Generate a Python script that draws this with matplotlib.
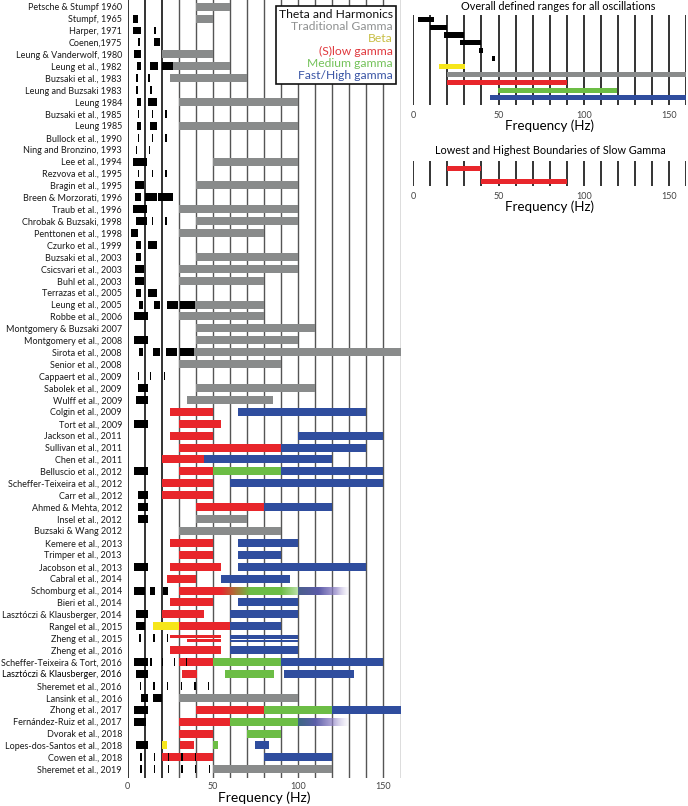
import numpy as np
import matplotlib
matplotlib.use("Agg")
import matplotlib.pyplot as plt
from matplotlib.colors import to_rgba
from matplotlib.lines import Line2D

plt.rcParams["font.family"] = ["Lato", "DejaVu Sans"]

STUDIES = [
    "Petsche & Stumpf 1960", "Stumpf, 1965", "Harper, 1971", "Coenen,1975",
    "Leung & Vanderwolf, 1980", "Leung et al., 1982", "Buzsaki et al., 1983",
    "Leung and Buzsaki 1983", "Leung 1984", "Buzsaki et al., 1985", "Leung 1985",
    "Bullock et al., 1990", "Ning and Bronzino, 1993", "Lee et al., 1994",
    "Rezvova et al., 1995", "Bragin et al., 1995", "Breen & Morzorati, 1996",
    "Traub et al., 1996", "Chrobak & Buzsaki, 1998", "Penttonen et al., 1998",
    "Czurko et al., 1999", "Buzsaki et al., 2003", "Csicsvari et al., 2003",
    "Buhl et al., 2003", "Terrazas et al., 2005", "Leung et al., 2005",
    "Robbe et al., 2006", "Montgomery & Buzsaki 2007", "Montgomery et al., 2008",
    "Sirota et al., 2008", "Senior et al., 2008", "Cappaert et al., 2009",
    "Sabolek et al., 2009", "Wulff et al., 2009", "Colgin et al., 2009",
    "Tort et al., 2009", "Jackson et al., 2011", "Sullivan et al., 2011",
    "Chen et al., 2011", "Belluscio et al., 2012", "Scheffer-Teixeira et al., 2012",
    "Carr et al., 2012", "Ahmed & Mehta, 2012", "Insel et al., 2012",
    "Buzsaki & Wang 2012", "Kemere et al., 2013", "Trimper et al., 2013",
    "Jacobson et al., 2013", "Cabral et al., 2014", "Schomburg et al., 2014",
    "Bieri et al., 2014", "Lasztóczi & Klausberger, 2014", "Rangel et al., 2015",
    "Zheng et al., 2015", "Zheng et al., 2016", "Scheffer-Teixeira & Tort, 2016",
    "Lasztóczi & Klausberger, 2016", "Sheremet et al., 2016", "Lansink et al., 2016",
    "Zhong et al., 2017", "Fernández-Ruiz et al., 2017", "Dvorak et al., 2018",
    "Lopes-dos-Santos et al., 2018", "Cowen et al., 2018", "Sheremet et al., 2019",
]

# theta and its harmonics (Hz)
THETA = [
    ("Stumpf, 1965", 3, 6), ("Harper, 1971", 3, 8), ("Harper, 1971", 15.5, 16.8),
    ("Coenen,1975", 6.2, 7.2), ("Coenen,1975", 15.3, 19.2),
    ("Leung & Vanderwolf, 1980", 4, 8),
    ("Leung et al., 1982", 5.5, 8.2), ("Leung et al., 1982", 13.3, 18), ("Leung et al., 1982", 20, 26.4),
    ("Buzsaki et al., 1983", 5.2, 6), ("Buzsaki et al., 1983", 12.3, 13.1),
    ("Leung and Buzsaki 1983", 5.2, 6), ("Leung and Buzsaki 1983", 13.4, 14.2),
    ("Leung 1984", 5.5, 8.2), ("Leung 1984", 12.3, 17.2),
    ("Buzsaki et al., 1985", 6.2, 7), ("Buzsaki et al., 1985", 14.3, 15.1), ("Buzsaki et al., 1985", 22.2, 23),
    ("Leung 1985", 5.5, 8.2), ("Leung 1985", 13.3, 17.2),
    ("Bullock et al., 1990", 6.2, 7), ("Bullock et al., 1990", 14.3, 15.1), ("Bullock et al., 1990", 22.2, 23),
    ("Ning and Bronzino, 1993", 5, 5.8), ("Ning and Bronzino, 1993", 12.4, 13.2),
    ("Lee et al., 1994", 3, 11.4),
    ("Rezvova et al., 1995", 6.2, 7), ("Rezvova et al., 1995", 14.3, 15.1), ("Rezvova et al., 1995", 22.2, 23),
    ("Bragin et al., 1995", 4.3, 9.4),
    ("Breen & Morzorati, 1996", 4.3, 8.2), ("Breen & Morzorati, 1996", 10.2, 17.5),
    ("Breen & Morzorati, 1996", 17.9, 26.4),
    ("Traub et al., 1996", 3, 11.4),
    ("Chrobak & Buzsaki, 1998", 5, 11.4), ("Chrobak & Buzsaki, 1998", 14.3, 15.1),
    ("Chrobak & Buzsaki, 1998", 22.2, 23),
    ("Penttonen et al., 1998", 2, 6),
    ("Czurko et al., 1999", 5, 8.2), ("Czurko et al., 1999", 12.3, 17.2),
    ("Buzsaki et al., 2003", 5, 8.2), ("Csicsvari et al., 2003", 4.3, 9.4),
    ("Buhl et al., 2003", 4.3, 9.4),
    ("Terrazas et al., 2005", 5, 8.2), ("Terrazas et al., 2005", 12.3, 17.2),
    ("Leung et al., 2005", 7, 9), ("Leung et al., 2005", 15.3, 19.2), ("Leung et al., 2005", 23, 29.5),
    ("Leung et al., 2005", 31, 39.5),
    ("Robbe et al., 2006", 4, 12), ("Montgomery et al., 2008", 4, 12),
    ("Sirota et al., 2008", 7, 9), ("Sirota et al., 2008", 14.7, 18.8), ("Sirota et al., 2008", 22.7, 29),
    ("Sirota et al., 2008", 31, 39),
    ("Cappaert et al., 2009", 6, 6.8), ("Cappaert et al., 2009", 13.2, 14), ("Cappaert et al., 2009", 21.2, 22),
    ("Sabolek et al., 2009", 6, 12), ("Wulff et al., 2009", 5, 12),
    ("Tort et al., 2009", 4, 12), ("Belluscio et al., 2012", 4, 12),
    ("Carr et al., 2012", 6, 12), ("Ahmed & Mehta, 2012", 6, 12), ("Insel et al., 2012", 6, 12),
    ("Jacobson et al., 2013", 4, 12),
    ("Schomburg et al., 2014", 4, 10), ("Schomburg et al., 2014", 13.3, 16), ("Schomburg et al., 2014", 21, 24),
    ("Lasztóczi & Klausberger, 2014", 5, 12), ("Rangel et al., 2015", 5, 10),
    ("Zheng et al., 2015", 7, 7.8), ("Zheng et al., 2015", 15.1, 15.9), ("Zheng et al., 2015", 23.1, 23.9),
    ("Scheffer-Teixeira & Tort, 2016", 4, 12), ("Scheffer-Teixeira & Tort, 2016", 13.3, 14.1),
    ("Scheffer-Teixeira & Tort, 2016", 20, 20.8), ("Scheffer-Teixeira & Tort, 2016", 27, 27.8),
    ("Scheffer-Teixeira & Tort, 2016", 34, 34.8),
    ("Lasztóczi & Klausberger, 2016", 5, 12),
    ("Sheremet et al., 2016", 7.1, 7.9), ("Sheremet et al., 2016", 15.1, 15.9), ("Sheremet et al., 2016", 23.1, 23.9),
    ("Sheremet et al., 2016", 31.1, 31.9), ("Sheremet et al., 2016", 39.1, 39.9), ("Sheremet et al., 2016", 47.1, 47.9),
    ("Lansink et al., 2016", 8, 12), ("Lansink et al., 2016", 15, 20),
    ("Zhong et al., 2017", 4, 12), ("Fernández-Ruiz et al., 2017", 4, 11),
    ("Lopes-dos-Santos et al., 2018", 5, 12),
    ("Cowen et al., 2018", 7.6, 8.4), ("Cowen et al., 2018", 15.6, 16.4), ("Cowen et al., 2018", 23.6, 24.4),
    ("Cowen et al., 2018", 31.6, 32.4), ("Cowen et al., 2018", 39.6, 40.4),
    ("Sheremet et al., 2019", 7.6, 8.4), ("Sheremet et al., 2019", 15.6, 16.4), ("Sheremet et al., 2019", 23.6, 24.4),
    ("Sheremet et al., 2019", 31.6, 32.4), ("Sheremet et al., 2019", 39.6, 40.4), ("Sheremet et al., 2019", 47.6, 48.4),
]

TRADITIONAL = [
    ("Petsche & Stumpf 1960", 40, 60), ("Stumpf, 1965", 40, 50), ("Leung & Vanderwolf, 1980", 20, 50),
    ("Leung et al., 1982", 26.4, 60), ("Buzsaki et al., 1983", 25, 70), ("Leung 1984", 30, 100),
    ("Leung 1985", 30, 100), ("Lee et al., 1994", 50, 100), ("Bragin et al., 1995", 40, 100),
    ("Traub et al., 1996", 30, 100), ("Chrobak & Buzsaki, 1998", 40, 100), ("Penttonen et al., 1998", 30, 80),
    ("Buzsaki et al., 2003", 40, 100), ("Csicsvari et al., 2003", 30, 100), ("Buhl et al., 2003", 30, 80),
    ("Leung et al., 2005", 39.5, 80), ("Robbe et al., 2006", 30, 80), ("Montgomery & Buzsaki 2007", 40, 110),
    ("Montgomery et al., 2008", 40, 100), ("Sirota et al., 2008", 39, 160), ("Senior et al., 2008", 30, 90),
    ("Sabolek et al., 2009", 40, 110), ("Wulff et al., 2009", 35, 85), ("Insel et al., 2012", 40, 70),
    ("Buzsaki & Wang 2012", 30, 90), ("Lansink et al., 2016", 30, 100), ("Sheremet et al., 2019", 50, 120),
]

BETA = [("Rangel et al., 2015", 15, 30), ("Lopes-dos-Santos et al., 2018", 20.5, 23)]

SLOW = [
    ("Colgin et al., 2009", 25, 50), ("Tort et al., 2009", 30, 55), ("Jackson et al., 2011", 25, 50),
    ("Sullivan et al., 2011", 30, 90), ("Chen et al., 2011", 20, 45), ("Belluscio et al., 2012", 30, 50),
    ("Scheffer-Teixeira et al., 2012", 20, 50), ("Carr et al., 2012", 20, 50), ("Ahmed & Mehta, 2012", 40, 80),
    ("Kemere et al., 2013", 25, 50), ("Trimper et al., 2013", 30, 50), ("Jacobson et al., 2013", 25, 55),
    ("Cabral et al., 2014", 23, 40), ("Schomburg et al., 2014", 30, 55), ("Bieri et al., 2014", 25, 50),
    ("Lasztóczi & Klausberger, 2014", 20, 45), ("Rangel et al., 2015", 30, 60),
    ("Zheng et al., 2016", 25, 55), ("Scheffer-Teixeira & Tort, 2016", 30, 50),
    ("Lasztóczi & Klausberger, 2016", 32, 41), ("Zhong et al., 2017", 40, 80),
    ("Fernández-Ruiz et al., 2017", 30, 60), ("Dvorak et al., 2018", 30, 50),
    ("Lopes-dos-Santos et al., 2018", 31, 39), ("Cowen et al., 2018", 20, 50),
]

MEDIUM = [
    ("Belluscio et al., 2012", 50, 90), ("Scheffer-Teixeira & Tort, 2016", 50, 90),
    ("Lasztóczi & Klausberger, 2016", 57, 86), ("Zhong et al., 2017", 80, 120),
    ("Fernández-Ruiz et al., 2017", 60, 100), ("Dvorak et al., 2018", 70, 90),
    ("Lopes-dos-Santos et al., 2018", 50, 53),
]

FAST = [
    ("Colgin et al., 2009", 65, 140), ("Jackson et al., 2011", 100, 150), ("Sullivan et al., 2011", 90, 140),
    ("Chen et al., 2011", 45, 120), ("Belluscio et al., 2012", 90, 150),
    ("Scheffer-Teixeira et al., 2012", 60, 150), ("Ahmed & Mehta, 2012", 80, 120),
    ("Kemere et al., 2013", 65, 100), ("Trimper et al., 2013", 65, 90), ("Jacobson et al., 2013", 65, 140),
    ("Cabral et al., 2014", 55, 95), ("Bieri et al., 2014", 65, 100),
    ("Lasztóczi & Klausberger, 2014", 60, 100), ("Rangel et al., 2015", 60, 90),
    ("Zheng et al., 2016", 60, 100), ("Scheffer-Teixeira & Tort, 2016", 90, 150),
    ("Lasztóczi & Klausberger, 2016", 92, 133), ("Zhong et al., 2017", 120, 160),
    ("Lopes-dos-Santos et al., 2018", 74.5, 83), ("Cowen et al., 2018", 80, 120),
]

# Zheng et al., 2015 is drawn as split lanes inside its row
ZHENG_2015_SLOW = [(25, 55), (35, 55)]
ZHENG_2015_FAST = [(60, 100), (60, 100), (60, 100)]

# colour transitions: (study, [(freq, colour, alpha), ...])
FADES = [
    ("Schomburg et al., 2014", [(55, "#e8262b", 1), (72, "#6cbd45", 1), (90, "#6cbd45", 1), (100, "#b9dfa5", 1)]),
    ("Schomburg et al., 2014", [(100, "#4b5f8c", 1), (112, "#5b5aa8", 1), (122, "#8c7fc4", 0.7), (130, "#c8c0e4", 0)]),
    ("Fernández-Ruiz et al., 2017", [(100, "#3d6783", 1), (110, "#5a5ea8", 1), (120, "#8c7fc4", 0.7), (130, "#c8c0e4", 0)]),
]

# right-hand summary panels
OVERALL_THETA = [(2.5, 12), (10, 20), (18, 29.5), (27.5, 40), (38.7, 40.7), (46, 48)]
OVERALL_BETA = (15, 30.5)
OVERALL_GAMMA = (20, 160)
OVERALL_SLOW = (20, 90)
OVERALL_MEDIUM = (49.5, 119.5)
OVERALL_FAST = (45, 160)
SLOW_BOUNDS = [(20, 40), (40, 90)]

LEGEND_LABELS = ["Theta and Harmonics", "Traditional Gamma", "Beta",
                 "(S)low gamma", "Medium gamma", "Fast/High gamma"]

C_THETA = "#000000"
C_GREY = "#898b8b"
C_BETA = "#f6e61a"
C_SLOW = "#e8262b"
C_MED = "#6cbd45"
C_FAST = "#2f4d9e"
LEGEND_COLORS = ["#111111", "#8f9191", "#c8be45", "#e0393e", "#74c25a", "#3a55a5"]

W, H = 688, 806
BAR_H = 0.67


def px_axes(fig, x0, y0, x1, y1):
    return fig.add_axes([x0 / W, 1 - y1 / H, (x1 - x0) / W, (y1 - y0) / H])


def freq_grid(ax, dark_upto=20):
    for f in range(0, 170, 10):
        dark = f <= dark_upto
        ax.axvline(f, color="#111111" if dark else "#555555", lw=1.2 if dark else 1.0, zorder=0)
    ax.set_xlim(0, 160)
    ax.set_xticks([0, 50, 100, 150])
    ax.tick_params(axis="x", length=0, labelsize=6.5, labelcolor="#444444", pad=3)
    for s in ax.spines.values():
        s.set_visible(False)


def draw_band(ax, rows, spans, color, zorder=2):
    for name, lo, hi in spans:
        ax.barh(rows[name], hi - lo, left=lo, height=BAR_H, color=color, lw=0, zorder=zorder)


def draw_lanes(ax, row, spans, color):
    lane = BAR_H / len(spans)
    for k, (lo, hi) in enumerate(spans):
        y = row - BAR_H / 2 + lane * (k + 0.5)
        ax.barh(y, hi - lo, left=lo, height=lane * 0.75, color=color, lw=0, zorder=2)


def draw_fade(ax, row, stops):
    freqs = np.array([s[0] for s in stops], dtype=float)
    rgba = np.array([to_rgba(c, a) for _, c, a in stops])
    xs = np.linspace(freqs[0], freqs[-1], 300)
    img = np.stack([np.interp(xs, freqs, rgba[:, k]) for k in range(4)], axis=-1)[None, :, :]
    ax.imshow(img, extent=(freqs[0], freqs[-1], row + BAR_H / 2, row - BAR_H / 2),
              aspect="auto", interpolation="bilinear", zorder=2)


fig = plt.figure(figsize=(W / 100, H / 100), dpi=100)

# main study chart
ax = px_axes(fig, 127.5, 0, 400.5, 778)
rows = {name: i for i, name in enumerate(STUDIES)}
freq_grid(ax)
draw_band(ax, rows, TRADITIONAL, C_GREY)
draw_band(ax, rows, BETA, C_BETA)
draw_band(ax, rows, SLOW, C_SLOW)
draw_band(ax, rows, MEDIUM, C_MED)
draw_band(ax, rows, FAST, C_FAST)
draw_lanes(ax, rows["Zheng et al., 2015"], ZHENG_2015_SLOW, C_SLOW)
draw_lanes(ax, rows["Zheng et al., 2015"], ZHENG_2015_FAST, C_FAST)
for name, stops in FADES:
    draw_fade(ax, rows[name], stops)
draw_band(ax, rows, THETA, C_THETA, zorder=3)
ax.set_xlim(0, 160)
ax.set_ylim(len(STUDIES) - 0.27, -0.56)
ax.set_yticks(range(len(STUDIES)))
ax.set_yticklabels(STUDIES)
ax.tick_params(axis="y", length=0, labelsize=6.5, pad=4, labelcolor="#1a1a1a")
ax.get_yticklabels()[rows["Lasztóczi & Klausberger, 2016"]].set_color("#000000")
ax.set_xlabel("Frequency (Hz)", fontsize=10, labelpad=0)

handles = [Line2D([], [], lw=0) for _ in LEGEND_LABELS]
leg = ax.legend(handles, LEGEND_LABELS, loc="upper right", bbox_to_anchor=(396 / W, 1 - 6 / H),
                bbox_transform=fig.transFigure, borderaxespad=0, handlelength=0, handletextpad=0,
                markerfirst=False, labelcolor=LEGEND_COLORS, fontsize=8.7, labelspacing=0.1,
                borderpad=0.25, fancybox=False, framealpha=1, edgecolor="#111111")
leg.get_frame().set_linewidth(1.2)
leg.set_zorder(5)

# overall defined ranges
ax2 = px_axes(fig, 413.3, 15, 686, 105)
freq_grid(ax2, dark_upto=160)
overall = [(lo, hi, C_THETA) for lo, hi in OVERALL_THETA] + [
    (*OVERALL_BETA, C_BETA), (*OVERALL_GAMMA, C_GREY), (*OVERALL_SLOW, C_SLOW),
    (*OVERALL_MEDIUM, C_MED), (*OVERALL_FAST, C_FAST)]
for j, (lo, hi, c) in enumerate(overall):
    ax2.barh(j, hi - lo, left=lo, height=0.65, color=c, lw=0, zorder=2)
ax2.set_ylim(10.9, -0.55)
ax2.set_yticks([])
ax2.tick_params(axis="x", pad=4)
ax2.set_xlabel("Frequency (Hz)", fontsize=9.6, labelpad=0)
fig.text(558 / W, 1 - 6 / H, "Overall defined ranges for all oscillations",
         ha="center", va="center", fontsize=7.8)

# slow gamma boundaries
ax3 = px_axes(fig, 413.3, 161, 686, 186)
freq_grid(ax3, dark_upto=160)
for j, (lo, hi) in enumerate(SLOW_BOUNDS):
    ax3.barh(j, hi - lo, left=lo, height=0.4, color=C_SLOW, lw=0, zorder=2)
ax3.set_ylim(1.32, -0.545)
ax3.set_yticks([])
ax3.tick_params(axis="x", pad=4)
ax3.set_xlabel("Frequency (Hz)", fontsize=9.6, labelpad=0)
fig.text(550 / W, 1 - 150.7 / H, "Lowest and Highest Boundaries of Slow Gamma",
         ha="center", va="center", fontsize=7.8)

fig.savefig("out.png", dpi=100)
